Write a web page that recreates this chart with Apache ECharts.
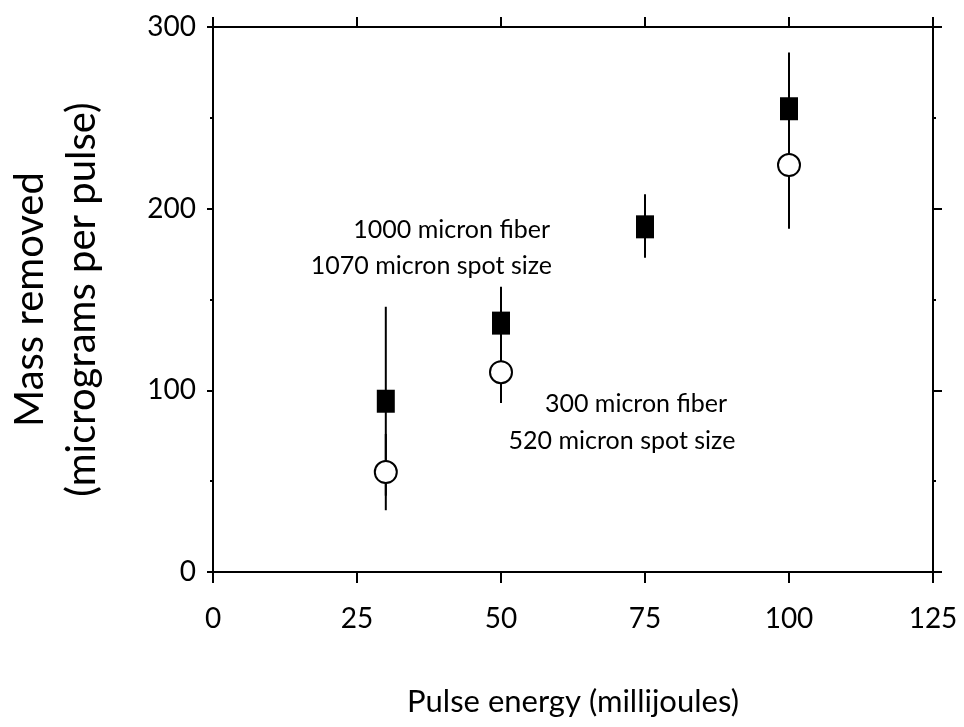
<!DOCTYPE html>
<html>
<head>
<meta charset="utf-8">
<script src="https://cdn.jsdelivr.net/npm/echarts@6/dist/echarts.min.js"></script>
<style>
html,body{margin:0;padding:0;background:#fff;}
#chart{width:964px;height:727px;}
</style>
</head>
<body>
<div id="chart"></div>
<script>
// Data
const energy = [30, 50, 75, 100];
// 1000 micron fiber (filled squares)
const bigFiberMass = [94, 137, 190, 255];
const bigFiberLow  = [42, 117, 173, 224];
const bigFiberHigh = [146, 157, 208, 286];
// 300 micron fiber (open circles)
const smallEnergy = [30, 50, 100];
const smallFiberMass = [55, 110, 224];
const smallFiberLow  = [34, 93, 189];
const smallFiberHigh = [76, 127, 260];

const xTicks = [0, 25, 50, 75, 100, 125];
const yTicks = [0, 100, 200, 300];

const FONT = 'Lato';

const chart = echarts.init(document.getElementById('chart'), null, {renderer: 'canvas'});

function errItem(params, api) {
  const x = api.value(0), lo = api.value(1), hi = api.value(2);
  const p1 = api.coord([x, lo]);
  const p2 = api.coord([x, hi]);
  return {type: 'line', shape: {x1: p1[0], y1: p1[1], x2: p2[0], y2: p2[1]},
          style: {stroke: '#000', lineWidth: 2}};
}

const axisLine = {show: true, onZero: false, lineStyle: {color: '#000', width: 2}};

const option = {
  backgroundColor: '#fff',
  animation: false,
  grid: {left: 213, right: 31, top: 27, bottom: 155, containLabel: false, outerBoundsMode: 'none'},
  xAxis: [{
    type: 'value', min: xTicks[0], max: xTicks[xTicks.length - 1], interval: 25,
    position: 'bottom',
    axisLine: axisLine,
    axisTick: {show: true, inside: false, length: 11, lineStyle: {color: '#000', width: 2}},
    axisLabel: {show: true, margin: 33, fontFamily: FONT, fontSize: 28, color: '#000'},
    splitLine: {show: false},
    name: 'Pulse energy (millijoules)', nameLocation: 'middle', nameGap: 114,
    nameTextStyle: {fontFamily: FONT, fontSize: 31, color: '#000'}
  }, {
    type: 'value', min: 0, max: 125, interval: 25, position: 'top',
    axisLine: axisLine,
    axisTick: {show: true, inside: false, length: 10, lineStyle: {color: '#000', width: 2}},
    axisLabel: {show: false}, splitLine: {show: false}
  }],
  yAxis: [{
    type: 'value', min: yTicks[0], max: yTicks[yTicks.length - 1], interval: 100,
    position: 'left',
    axisLine: axisLine,
    axisTick: {show: true, inside: false, length: 6, lineStyle: {color: '#000', width: 2}},
    minorTick: {show: true, splitNumber: 2, length: 3, lineStyle: {color: '#000', width: 2}},
    axisLabel: {show: true, margin: 17, fontFamily: FONT, fontSize: 28, color: '#000'},
    splitLine: {show: false},
    name: 'Mass removed\n(micrograms per pulse)', nameLocation: 'middle', nameGap: 105,
    nameRotate: 90,
    nameTextStyle: {fontFamily: FONT, fontSize: 40, color: '#000', lineHeight: 52, align: 'center'}
  }, {
    type: 'value', min: 0, max: 300, interval: 100, position: 'right',
    axisLine: axisLine,
    axisTick: {show: true, inside: false, length: 9, lineStyle: {color: '#000', width: 2}},
    minorTick: {show: true, splitNumber: 2, length: 3, lineStyle: {color: '#000', width: 2}},
    axisLabel: {show: false}, splitLine: {show: false}
  }],
  series: [
    {
      type: 'custom', renderItem: errItem, xAxisIndex: 0, yAxisIndex: 0,
      encode: {x: 0, y: [1, 2]}, z: 1,
      data: energy.map((e, i) => [e, bigFiberLow[i], bigFiberHigh[i]])
    },
    {
      type: 'custom', renderItem: errItem, xAxisIndex: 0, yAxisIndex: 0,
      encode: {x: 0, y: [1, 2]}, z: 1,
      data: smallEnergy.map((e, i) => [e, smallFiberLow[i], smallFiberHigh[i]])
    },
    {
      type: 'scatter', xAxisIndex: 0, yAxisIndex: 0, z: 3,
      symbol: 'circle', symbolSize: 22,
      itemStyle: {color: '#fff', borderColor: '#000', borderWidth: 2, opacity: 1},
      data: smallEnergy.map((e, i) => [e, smallFiberMass[i]])
    },
    {
      type: 'scatter', xAxisIndex: 0, yAxisIndex: 0, z: 3,
      symbol: 'rect', symbolSize: [18, 23],
      itemStyle: {color: '#000', opacity: 1},
      data: energy.map((e, i) => [e, bigFiberMass[i]])
    }
  ],
  graphic: [
    {type: 'text', x: 550, y: 230, z: 10,
     style: {text: '1000 micron fiber', fontFamily: FONT, fontSize: 25, fill: '#000',
             textAlign: 'right', textVerticalAlign: 'middle', align: 'right', verticalAlign: 'middle'}},
    {type: 'text', x: 552, y: 266, z: 10,
     style: {text: '1070 micron spot size', fontFamily: FONT, fontSize: 25, fill: '#000',
             textAlign: 'right', textVerticalAlign: 'middle', align: 'right', verticalAlign: 'middle'}},
    {type: 'text', x: 636, y: 404, z: 10,
     style: {text: '300 micron fiber', fontFamily: FONT, fontSize: 25, fill: '#000',
             textAlign: 'center', textVerticalAlign: 'middle', align: 'center', verticalAlign: 'middle'}},
    {type: 'text', x: 622, y: 441, z: 10,
     style: {text: '520 micron spot size', fontFamily: FONT, fontSize: 25, fill: '#000',
             textAlign: 'center', textVerticalAlign: 'middle', align: 'center', verticalAlign: 'middle'}}
  ]
};
chart.setOption(option);
</script>
</body>
</html>
